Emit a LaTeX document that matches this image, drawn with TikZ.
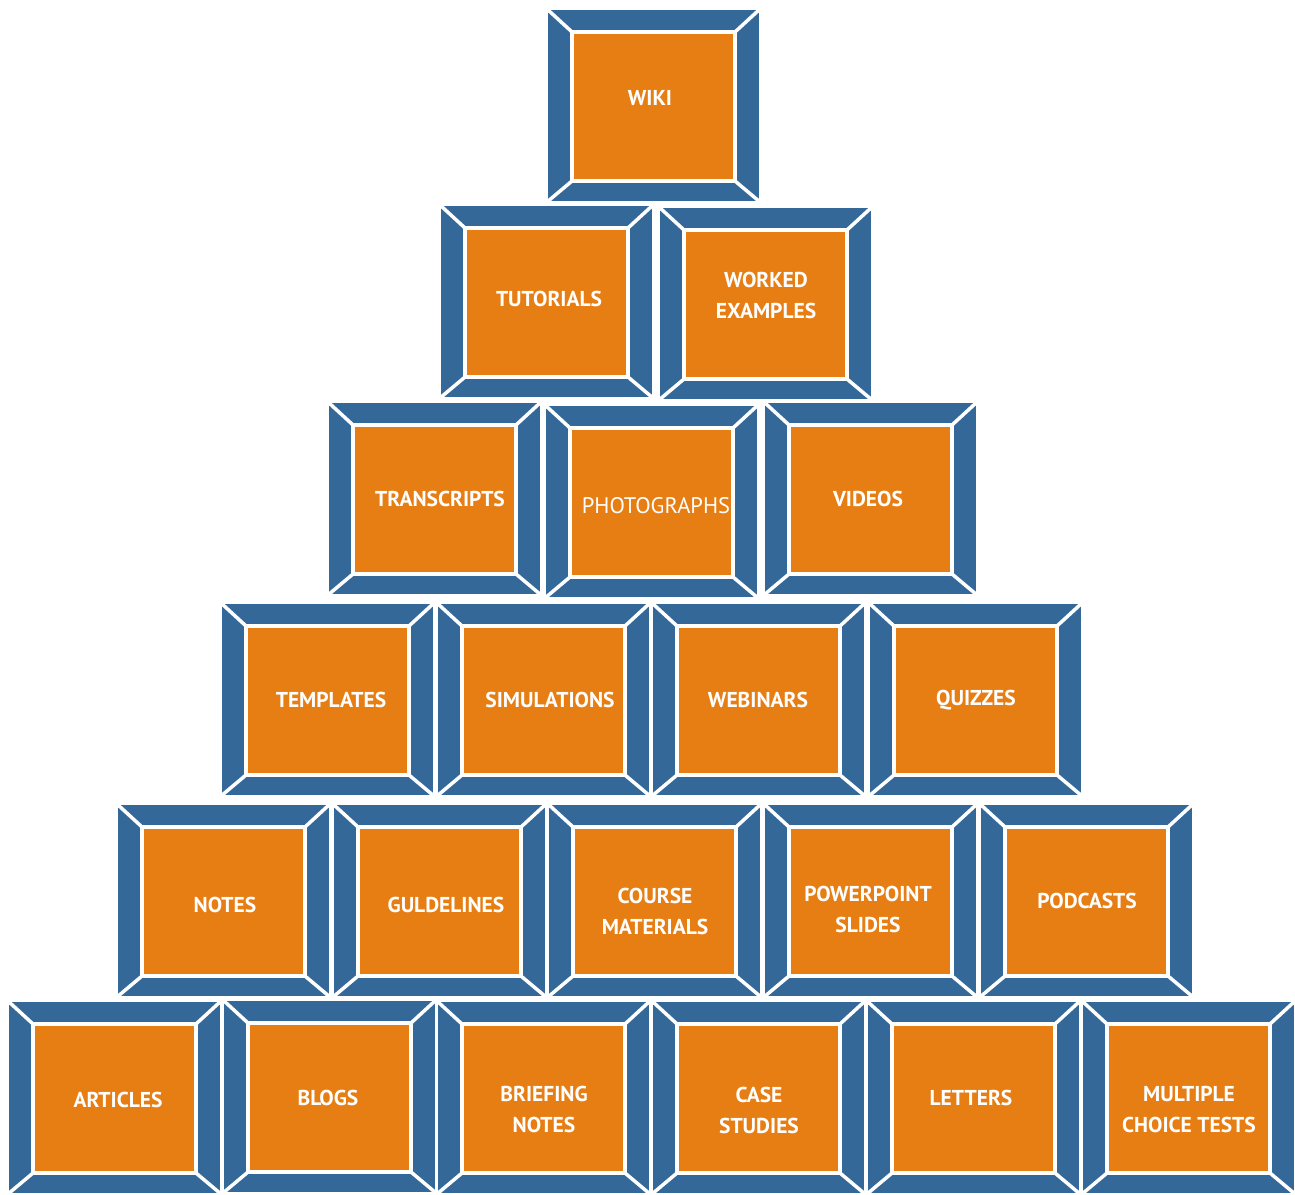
\documentclass[tikz,border=0pt]{standalone}
\usepackage{fontspec}
\setmainfont{PT Sans}
\definecolor{bblue}{RGB}{52,104,153}
\definecolor{borange}{RGB}{231,126,19}
\tikzset{
  outerbox/.style={fill=bblue,draw=white,line width=1.2pt},
  bevelline/.style={draw=white,line width=3.5pt},
  innerbox/.style={fill=borange,draw=white,line width=3.5pt},
  lbl/.style={text=white,font=\fontsize{21.5}{31}\selectfont\bfseries,align=center,inner sep=0pt},
  lblreg/.style={text=white,font=\fontsize{22.5}{31}\selectfont,align=center,inner sep=0pt}
}
\newcommand\blk[7]{%
  \fill[outerbox] (#2,#3) rectangle ({#2+213},{#3+193});
  \draw[bevelline] (#2,#3) -- ({#2+25},{#3+23});
  \draw[bevelline] ({#2+213},#3) -- ({#2+188},{#3+23});
  \draw[bevelline] (#2,{#3+193}) -- ({#2+25},{#3+172});
  \draw[bevelline] ({#2+213},{#3+193}) -- ({#2+188},{#3+172});
  \draw[innerbox] ({#2+25},{#3+23}) rectangle ({#2+188},{#3+172});
  \node[#7] (#1) at (#4,#5) {#6};
}
\begin{document}
\begin{tikzpicture}[x=1pt,y=-1pt]
\useasboundingbox[fill=white] (0,0) rectangle (1295,1194);
% row 1
\blk{wiki}{547}{9}{650}{98}{WIKI}{lbl}
% row 2
\blk{tut}{440}{205}{549}{299}{TUTORIALS}{lbl}
\blk{work}{659}{207}{766}{295}{WORKED\\EXAMPLES}{lbl}
% row 3
\blk{trans}{328}{402}{440}{499}{TRANSCRIPTS}{lbl}
\blk{photo}{545}{405}{656}{506}{PHOTOGRAPHS}{lblreg}
\blk{vid}{764}{402}{868}{499}{VIDEOS}{lbl}
% row 4
\blk{templ}{221}{603}{331}{700}{TEMPLATES}{lbl}
\blk{sim}{437}{603}{550}{700}{SIMULATIONS}{lbl}
\blk{web}{652}{603}{758}{700}{WEBINARS}{lbl}
\blk{quiz}{869}{603}{976}{700}{QUIZZES}{lbl}
% row 5
\blk{notes}{117}{804}{225}{905}{NOTES}{lbl}
\blk{guide}{333}{804}{446}{905}{GULDELINES}{lbl}
\blk{course}{548}{804}{655}{911}{COURSE\\MATERIALS}{lbl}
\blk{ppt}{764}{804}{868}{909}{POWERPOINT\\SLIDES}{lbl}
\blk{pod}{980}{804}{1087}{901}{PODCASTS}{lbl}
% row 6
\blk{art}{8}{1001}{118}{1100}{ARTICLES}{lbl}
\blk{blogs}{223}{1000}{328}{1098}{BLOGS}{lbl}
\blk{brief}{437}{1001}{544}{1109}{BRIEFING\\NOTES}{lbl}
\blk{case}{652}{1001}{759}{1110}{CASE\\STUDIES}{lbl}
\blk{lett}{867}{1001}{971}{1098}{LETTERS}{lbl}
\blk{mct}{1082}{1001}{1189}{1110}{MULTIPLE\\CHOICE TESTS}{lbl}
\end{tikzpicture}
\end{document}
